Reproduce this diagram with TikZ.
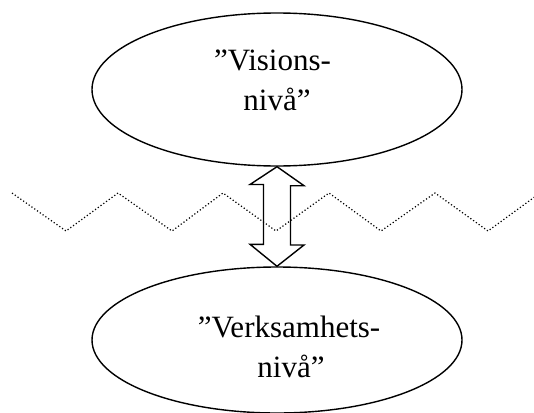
\documentclass[tikz,border=0pt]{standalone}
\usepackage{fontspec}
\setmainfont{Liberation Serif}
\usetikzlibrary{shapes.geometric}
\begin{document}
\begin{tikzpicture}[x=1pt,y=-1pt,
  oval/.style={draw,ellipse,line width=1.4pt,minimum width=370pt,minimum height=153pt,inner sep=0pt},
  lbl/.style={anchor=base,inner sep=0pt,font=\fontsize{31}{40}\selectfont},
  zig/.style={line width=1.2pt,dash pattern=on 1.2pt off 2.2pt},
  darrow/.style={draw,line width=1.4pt,line join=miter}]
\useasboundingbox (0,0) rectangle (534,412);
\clip (0,0) rectangle (534,412);
% zigzag
\draw[zig] (12,193) -- (66,231) -- (118,193) -- (172,231) -- (223,193) -- (276,231)
  -- (329,193) -- (381,231) -- (435,193) -- (488,231) -- (540,193);
% ellipses
\node[oval] (top) at (277,89.5) {};
\node[oval,minimum height=146pt] (bot) at (277,340) {};
% texts
\node[lbl] (t1) at (272.5,70) {”Visions-};
\node[lbl] (t2) at (277,110) {nivå”};
\node[lbl] (b1) at (289,337) {”Verksamhets-};
\node[lbl] (b2) at (291,377) {nivå”};
% double arrow
\path (top.south) coordinate (tipA);
\path (bot.north) coordinate (tipB);
\draw[darrow] (tipA) -- ++(27,19) -- ++(-13.5,0) -- (290.5,245) -- ++(13.5,0)
  -- (tipB) -- ++(-27,-22) -- ++(13.5,0) -- (263.5,184.5) -- ++(-13.5,0) -- cycle;
\end{tikzpicture}
\end{document}
